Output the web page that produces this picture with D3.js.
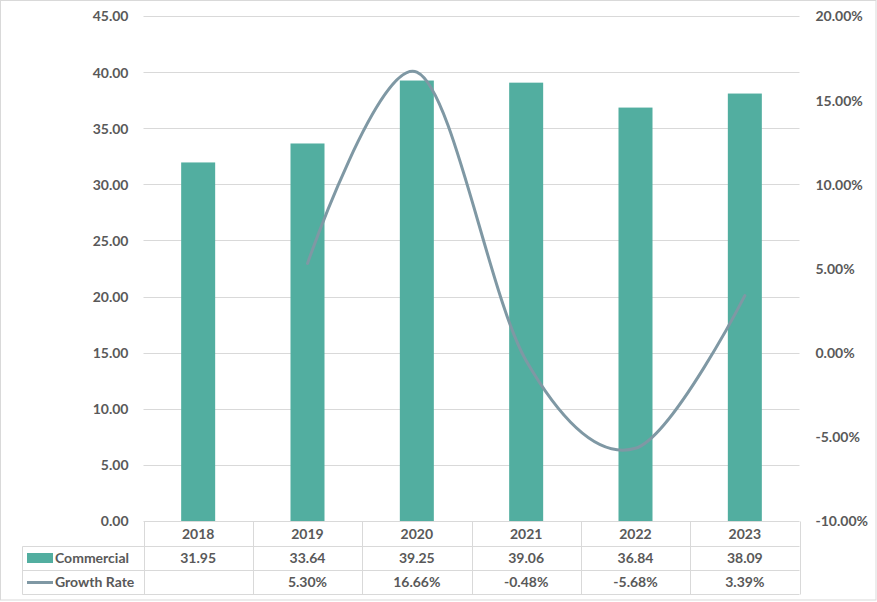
<!DOCTYPE html>
<html><head><meta charset="utf-8">
<script src="https://cdn.jsdelivr.net/npm/d3@7"></script>
<style>
html,body{margin:0;padding:0;background:#fff;}
text{font-family:Lato,"Open Sans",sans-serif;font-weight:bold;fill:#595959;}
</style></head>
<body><svg id="c" width="877" height="602"></svg>
<script>
const years = ["2018","2019","2020","2021","2022","2023"];
const commercial = [31.95,33.64,39.25,39.06,36.84,38.09];
const growth = [null,5.30,16.66,-0.48,-5.68,3.39];
const leftTicks = [0,5,10,15,20,25,30,35,40,45];
const rightTicks = [-0.10,-0.05,0,0.05,0.10,0.15,0.20];
const seriesNames = ["Commercial","Growth Rate"];

const svg = d3.select("#c");
const barColor = "#52AEA0", lineColor = "#7F98A4", gridColor = "#D9D9D9", txt = "#595959";
const L = 143.5, R = 799.5, T = 16, B = 521;

// outer border
svg.append("rect").attr("x",0.5).attr("y",0.5).attr("width",875.5).attr("height",599.5)
  .attr("fill","none").attr("stroke",gridColor);

const x = d3.scaleBand().domain(years).range([L,R]).paddingInner(0).paddingOuter(0);
const y = d3.scaleLinear().domain([0,45]).range([B,T]);
const y2 = d3.scaleLinear().domain([-0.10,0.20]).range([B,T]);

// gridlines
svg.append("g").selectAll("line").data(leftTicks.filter(d=>d>0)).join("line")
  .attr("x1",L).attr("x2",R).attr("y1",d=>Math.round(y(d))+0.5).attr("y2",d=>Math.round(y(d))+0.5)
  .attr("stroke",gridColor).attr("stroke-width",1);

// left axis
const la = svg.append("g").attr("transform",`translate(${L},0)`)
  .call(d3.axisLeft(y).tickValues(leftTicks).tickFormat(d=>d.toFixed(2)).tickSize(0).tickPadding(15));
la.select(".domain").remove();
la.selectAll("text").attr("font-size",14).attr("fill",txt).attr("dy","0.35em");

// right axis
const ra = svg.append("g").attr("transform",`translate(${R},0)`)
  .call(d3.axisRight(y2).tickValues(rightTicks).tickFormat(d=>(d*100).toFixed(2)+"%").tickSize(0).tickPadding(16));
ra.select(".domain").remove();
ra.selectAll("text").attr("font-size",14).attr("fill",txt).attr("dy","0.35em");

// bars
const bw = 34;
svg.append("g").selectAll("rect").data(commercial).join("rect")
  .attr("x",(d,i)=>x(years[i])+x.bandwidth()/2-bw/2).attr("width",bw)
  .attr("y",d=>y(d)).attr("height",d=>B-y(d)).attr("fill",barColor);

// line
const pts = growth.map((g,i)=>g===null?null:[x(years[i])+x.bandwidth()/2, y2(g/100)]).filter(p=>p);
svg.append("path").attr("d",d3.line().curve(d3.curveCardinal.tension(0))(pts))
  .attr("fill","none").attr("stroke",lineColor).attr("stroke-width",3).attr("stroke-linecap","round");

// data table
const tb = svg.append("g").attr("stroke",gridColor).attr("stroke-width",1).attr("fill","none");
const rows = [521.5,546.5,570.5,594.5];
const TL = 22.5;
tb.append("line").attr("x1",L).attr("x2",R).attr("y1",rows[0]).attr("y2",rows[0]);
tb.append("line").attr("x1",TL).attr("x2",R).attr("y1",rows[1]).attr("y2",rows[1]);
tb.append("line").attr("x1",TL).attr("x2",R).attr("y1",rows[2]).attr("y2",rows[2]);
tb.append("line").attr("x1",TL).attr("x2",R).attr("y1",rows[3]).attr("y2",rows[3]);
tb.append("line").attr("x1",TL).attr("x2",TL).attr("y1",rows[1]).attr("y2",rows[3]);
const vx = years.map(d=>x(d)).concat([R]);
tb.selectAll("line.v").data(vx).join("line").attr("class","v")
  .attr("x1",d=>Math.round(d)+0.5).attr("x2",d=>Math.round(d)+0.5).attr("y1",rows[0]).attr("y2",rows[3]);

const cx = d => x(d)+x.bandwidth()/2;
svg.append("g").selectAll("text").data(years).join("text")
  .attr("x",d=>cx(d)).attr("y",534).attr("dy","0.35em").attr("text-anchor","middle").attr("font-size",14).text(d=>d);
svg.append("g").selectAll("text").data(commercial).join("text")
  .attr("x",(d,i)=>cx(years[i])).attr("y",558).attr("dy","0.35em").attr("text-anchor","middle").attr("font-size",14).text(d=>d.toFixed(2));
svg.append("g").selectAll("text").data(growth).join("text")
  .attr("x",(d,i)=>cx(years[i])).attr("y",582).attr("dy","0.35em").attr("text-anchor","middle").attr("font-size",14)
  .text(d=>d===null?"":d.toFixed(2)+"%");

// legend keys
svg.append("rect").attr("x",27).attr("y",553).attr("width",26).attr("height",10).attr("fill",barColor);
svg.append("line").attr("x1",27).attr("x2",53).attr("y1",582.5).attr("y2",582.5).attr("stroke",lineColor).attr("stroke-width",3);
svg.append("text").attr("x",55).attr("y",558).attr("dy","0.35em").attr("font-size",14).text(seriesNames[0]);
svg.append("text").attr("x",55).attr("y",582).attr("dy","0.35em").attr("font-size",14).text(seriesNames[1]);
</script></body></html>
